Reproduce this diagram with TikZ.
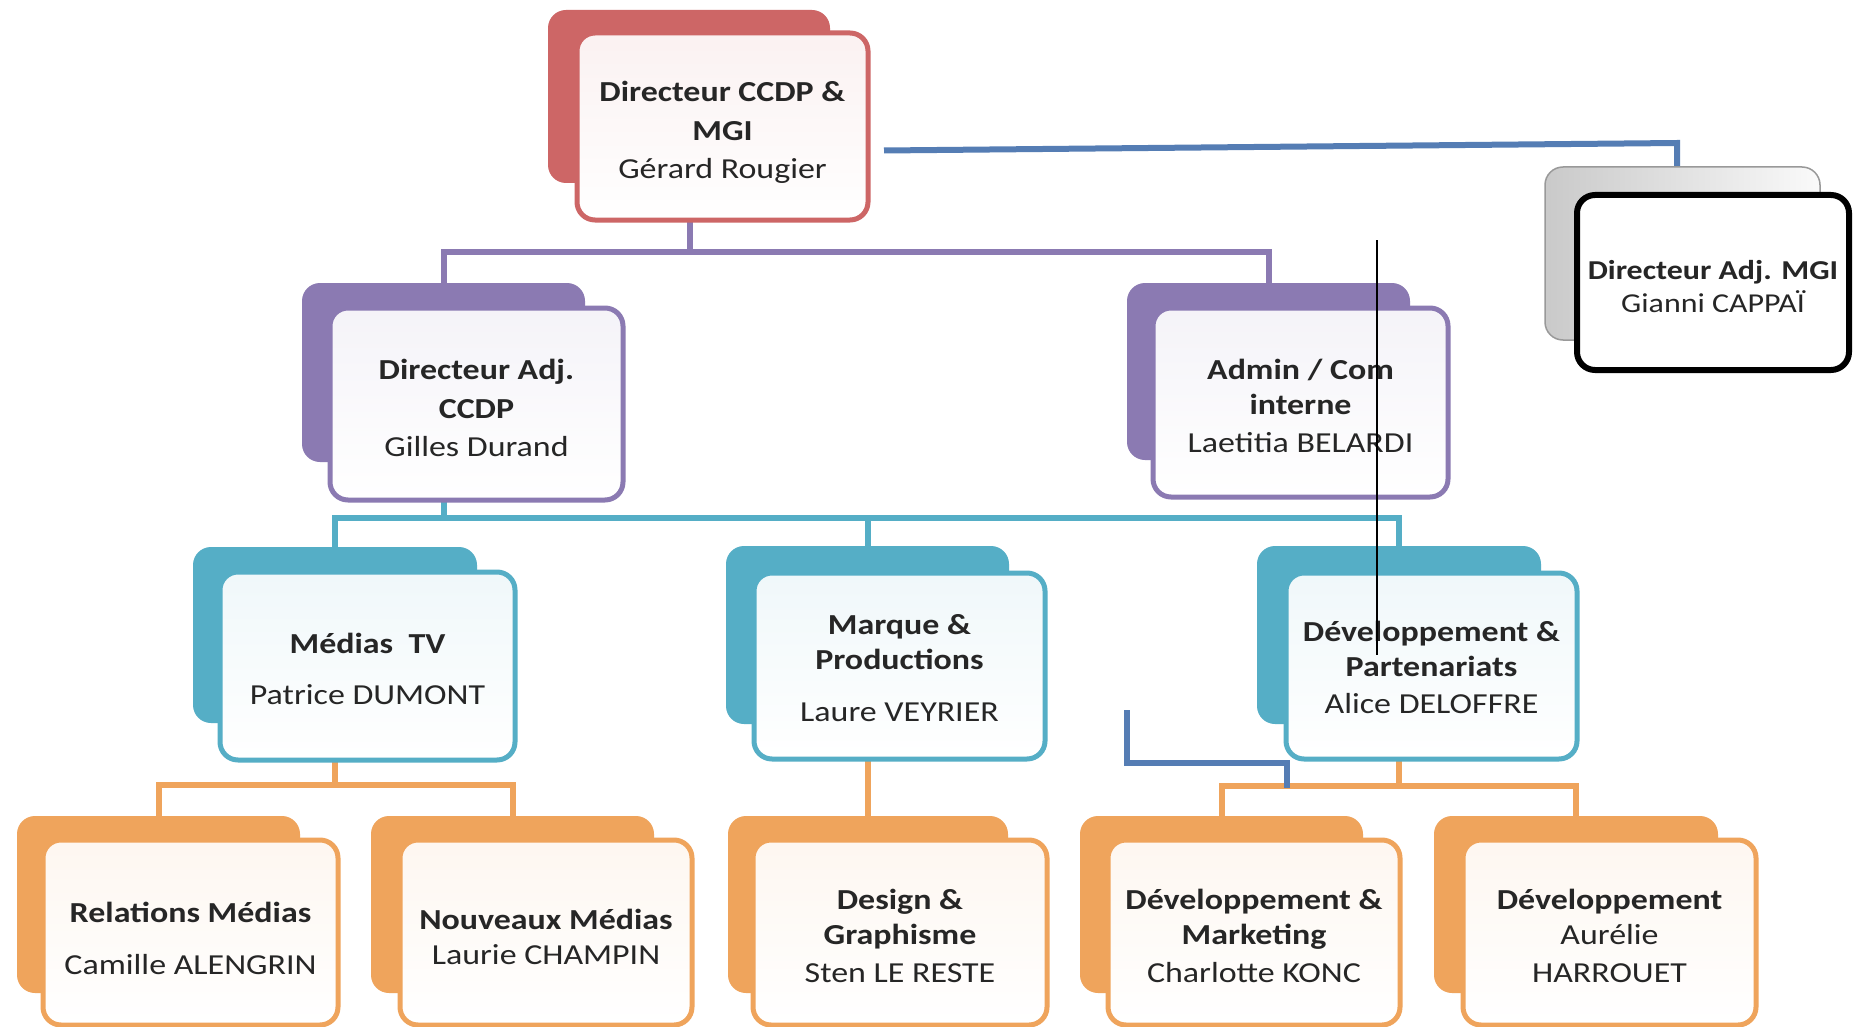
\documentclass[tikz,border=0pt]{standalone}
\usepackage{fontspec}
\setmainfont{Carlito}[FakeStretch=1.17]
\usetikzlibrary{calc,backgrounds}
\definecolor{cred}{HTML}{CD6666}
\definecolor{cpurple}{HTML}{8B7AB2}
\definecolor{cteal}{HTML}{55AEC6}
\definecolor{corange}{HTML}{EFA45C}
\definecolor{cblue}{HTML}{557DB4}
\definecolor{txt}{HTML}{262626}
\tikzset{
  sz/.style 2 args={minimum width=#1pt, minimum height=#2pt},
  backbox/.style={rectangle, rounded corners=18pt, inner sep=0pt, outer sep=0pt, fill=#1, draw=none},
  frontbox/.style={rectangle, rounded corners=18pt, inner sep=0pt, outer sep=0pt, line width=5pt,
    draw=#1, top color=#1!9, bottom color=white},
  lbl/.style={inner sep=0pt, align=center, text=txt, font=\fontsize{29}{35}\selectfont},
  conn/.style={line width=6pt, line cap=butt, line join=miter},
  pline/.style={conn, draw=cpurple},
  tline/.style={conn, draw=cteal},
  oline/.style={conn, draw=corange},
  bline/.style={conn, draw=cblue},
}
\begin{document}
\begin{tikzpicture}[x=1pt,y=-1pt]
\useasboundingbox (0,0) rectangle (1854,1027);
% ---- top director
\node[backbox=cred, sz={282}{173}] (redB) at (689,96.5) {};
\node[frontbox=cred, sz={291}{187}] (redF) at (722.5,126.5) {};
\node[lbl] (redT) at ($(redF)+(0,6)$)
  {\textbf{Directeur CCDP \&}\\[4pt]\textbf{MGI}\\[3pt]Gérard Rougier};
% ---- gray box
\node[rectangle, rounded corners=18pt, inner sep=0pt, outer sep=0pt, left color=gray!42, right color=gray!4,
  draw=gray!80, line width=1.5pt, sz={275}{173}] (gB) at (1682.5,253.5) {};
\node[rectangle, rounded corners=18pt, inner sep=0pt, outer sep=0pt, fill=white, draw=black, line width=6pt,
  sz={272}{175}] (gF) at (1713,282.5) {};
\node[lbl, font=\fontsize{27.3}{33}\selectfont] (gT) at ($(gF)+(0,4)$)
  {\textbf{Directeur Adj. MGI}\\Gianni CAPPAÏ};
% ---- purple level
\node[backbox=cpurple, sz={283}{179}] (pLB) at (443.5,372.5) {};
\node[frontbox=cpurple, sz={293}{192}] (pLF) at (476.5,404) {};
\node[lbl] (pLT) at ($(pLF)+(0,3.5)$)
  {\textbf{Directeur Adj.}\\[4pt]\textbf{CCDP}\\[3pt]Gilles Durand};
\node[backbox=cpurple, sz={283}{177}] (pRB) at (1268.5,371.5) {};
\node[frontbox=cpurple, sz={295}{189}] (pRF) at (1300.5,402.5) {};
\node[lbl] (pRT) at ($(pRF)+(0,3)$)
  {\textbf{Admin / Com}\\\textbf{interne}\\[3pt]Laetitia BELARDI};
% ---- teal level
\node[backbox=cteal, sz={284}{176}] (t1B) at (335,635) {};
\node[frontbox=cteal, sz={295}{188}] (t1F) at (367.5,666) {};
\node[lbl] (t1T) at ($(t1F)+(0,3)$)
  {\textbf{Médias\ \ TV}\\[16pt]Patrice DUMONT};
\node[backbox=cteal, sz={283}{178}] (t2B) at (867.5,635) {};
\node[frontbox=cteal, sz={291}{186}] (t2F) at (899.5,666) {};
\node[lbl] (t2T) at ($(t2F)+(0,2)$)
  {\textbf{Marque \&}\\\textbf{Productions}\\[17pt]Laure VEYRIER};
\node[backbox=cteal, sz={284}{178}] (t3B) at (1399,635) {};
\node[frontbox=cteal, sz={291}{186}] (t3F) at (1431.5,666) {};
\node[lbl] (t3T) at ($(t3F)+(0,1.5)$)
  {\textbf{Développement \&}\\\textbf{Partenariats}\\[2pt]Alice DELOFFRE};
% ---- orange level
\node[backbox=corange, sz={283}{177}] (o1B) at (158.5,904.5) {};
\node[frontbox=corange, sz={295}{185}] (o1F) at (190.5,932.5) {};
\node[lbl] (o1T) at ($(o1F)+(0,6)$)
  {\textbf{Relations Médias}\\[17pt]Camille ALENGRIN};
\node[backbox=corange, sz={283}{177}] (o2B) at (512.5,904.5) {};
\node[frontbox=corange, sz={292}{185}] (o2F) at (546,932.5) {};
\node[lbl] (o2T) at ($(o2F)+(0,4)$)
  {\textbf{Nouveaux Médias}\\Laurie CHAMPIN};
\node[backbox=corange, sz={280}{177}] (o3B) at (868,904.5) {};
\node[frontbox=corange, sz={294}{185}] (o3F) at (900,932.5) {};
\node[lbl] (o3T) at ($(o3F)+(0,3)$)
  {\textbf{Design \&}\\\textbf{Graphisme}\\[3pt]Sten LE RESTE};
\node[backbox=corange, sz={283}{177}] (o4B) at (1221.5,904.5) {};
\node[frontbox=corange, sz={292}{185}] (o4F) at (1254,932.5) {};
\node[lbl] (o4T) at ($(o4F)+(0,3)$)
  {\textbf{Développement \&}\\\textbf{Marketing}\\[3pt]Charlotte KONC};
\node[backbox=corange, sz={284}{177}] (o5B) at (1576,904.5) {};
\node[frontbox=corange, sz={293}{185}] (o5F) at (1609.5,932.5) {};
\node[lbl] (o5T) at ($(o5F)+(0,3)$)
  {\textbf{Développement}\\Aurélie\\[3pt]HARROUET};
% ---- connectors (behind boxes)
\begin{scope}[on background layer]
\fill[white] (0,0) rectangle (1854,1027);
\draw[pline] ([xshift=-33pt]redF.south) -- ++(0,32) coordinate (pj);
\draw[pline] (pLB.north) |- (pj) -| (pRB.north);
\draw[tline] (pLB.north |- pLF.south) -- ++(0,18) coordinate (tj);
\draw[tline] (t1B.north) |- (tj) -| (t3B.north);
\draw[tline] (t2B.north) -- (t2B.north |- tj);
\draw[oline] (t1B.north |- t1F.south) -- ++(0,25) coordinate (oj1);
\draw[oline] (o1B.north) |- (oj1) -| (o2B.north);
\draw[oline] (o3B.north |- t2F.south) -- (o3B.north);
\draw[oline] (t3B.north |- t3F.south) -- ++(0,27) coordinate (oj3);
\draw[oline] (o4B.north) |- (oj3) -| (o5B.north);
\coordinate (bt) at (1677,143);
\draw[bline] ([shift={(16,24)}]redF.east) -- (bt) -- (bt |- gB.north);
\coordinate (bs1) at (1127,710);
\coordinate (bs2) at (1287,788);
\draw[bline] (bs1) |- (1287,763) -- (bs2);
\end{scope}
% ---- stray black line on top
\coordinate (k1) at (1377,240);
\coordinate (k2) at (1377,655);
\draw[line width=2.8pt, black] (k1) -- (k2);
\end{tikzpicture}
\end{document}
